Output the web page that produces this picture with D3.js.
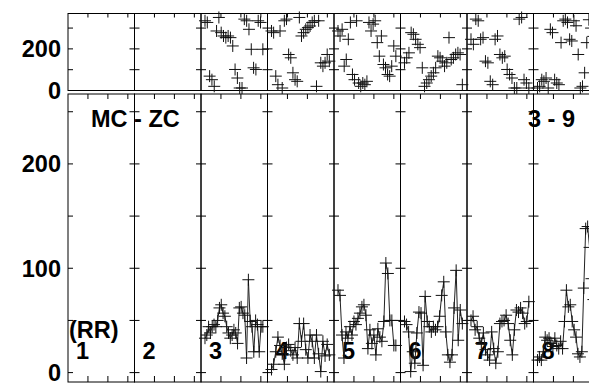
<!DOCTYPE html>
<html><head><meta charset="utf-8">
<script src="https://cdn.jsdelivr.net/npm/d3@7"></script>
<style>html,body{margin:0;padding:0;overflow:hidden;background:#fff}svg{display:block}</style>
</head><body><svg id="c" width="589" height="384"></svg>
<script>
// ---- data ----
const panels = [1, 2, 3, 4, 5, 6, 7, 8, 9];
const panelLabels = ["1", "2", "3", "4", "5", "6", "7", "8", "9"];
const dirTicks = [100, 200, 300];
const dirLabels = [0, 200];
const spdTicks = [0, 50, 100, 150, 200, 250];
const spdLabels = [0, 100, 200];
const timeTicks = [30, 60, 90];

// direction (top strip), per panel
const dir3 = [335, 327, 69, 52, 20, 286, 351, 278, 262, 254, 262, 254, 214, 101, 60, 12, 12, 343, 335, 294, 198, 109, 101, 335, 327, 198];
const dir4 = [286, 278, 69, 28, 286, 12, 335, 343, 173, 157, 85, 52, 44, 351, 262, 278, 294, 302, 310, 327, 335, 20, 335, 133, 117, 133, 173, 141];
const dir5 = [286, 262, 294, 117, 149, 246, 327, 77, 52, 335, 36, 20, 36, 28, 44, 327, 286, 319, 335, 230, 165, 262, 125, 109, 77, 69, 117, 214, 165];
const dir6 = [133, 157, 181, 278, 270, 246, 222, 206, 109, 20, 36, 52, 69, 85, 109, 165, 157, 141, 117, 133, 254, 149, 157, 173, 181, 173, 28];
const dir7 = [246, 222, 343, 335, 246, 254, 141, 133, 44, 28, 246, 262, 173, 157, 165, 101, 77, 60, 12, 12, 343, 351, 52, 36, 12];
const dir8 = [12, 20, 52, 44, 60, 12, 294, 278, 52, 36, 28, 230, 335, 343, 327, 246, 238, 335, 311, 173, 12, 20, 85, 230, 340, 300, 260, 200];

// speed (main strip), per panel
const spd3 = [33, 36, 44, 38, 44, 46, 44, 50, 62, 65, 57, 54, 44, 38, 33, 36, 41, 38, 28, 62, 63, 57, 55, 14, 89, 49, 44, 20, 50, 46, 20, 44, 44];
const spd4 = [3, 8, 20, 34, 26, 18, 8, 24, 27, 21, 17, 24, 14, 47, 30, 47, 22, 14, 36, 30, 14, 36, 18, 1, 30, 16, 27, 17];
const spd5 = [79, 74, 36, 14, 39, 33, 44, 36, 49, 46, 52, 57, 63, 65, 55, 23, 41, 28, 36, 17, 42, 34, 30, 49, 105, 95, 50, 50, 26, 26];
const spd6 = [49, 46, 39, 1, 20, 9, 38, 58, 57, 7, 73, 49, 44, 39, 44, 41, 44, 54, 74, 87, 39, 17, 10, 17, 62, 98, 31, 60, 47];
const spd7 = [50, 54, 41, 44, 33, 28, 38, 22, 17, 12, 39, 23, 9, 20, 47, 49, 50, 55, 47, 31, 17, 41, 60, 58, 62, 57, 47, 49, 68];
const spd8 = [12, 15, 12, 20, 34, 31, 33, 28, 25, 33, 26, 23, 30, 23, 49, 79, 63, 65, 49, 41, 34, 18, 15, 20, 81, 138, 140, 120, 90, 70, 50];

const dirByPanel = {3: dir3, 4: dir4, 5: dir5, 6: dir6, 7: dir7, 8: dir8};
const spdByPanel = {3: spd3, 4: spd4, 5: spd5, 6: spd6, 7: spd7, 8: spd8};

// ---- layout ----
const svg = d3.select("#c");
const FONT = "'Liberation Sans', Arial, sans-serif";
const FS = 23.5;
const px = d3.scaleBand().domain(panels).range([68, 68 + 66.5 * panels.length]).padding(0);
const bw = px.bandwidth();
const tx = d3.scaleLinear().domain([0, 100]).range([0, bw]);
const yDir = d3.scaleLinear().domain([0, 370]).range([90.5, 13.5]);
const ySpd = d3.scaleLinear().domain([-9, 267]).range([382, 94]);
const tIdx = n => d3.scaleLinear().domain([0, n - 1]).range([6, 93]);

const g = svg.append("g");
const stroke = "#000";

// frames
panels.forEach(p => {
  const L = px(p);
  g.append("rect").attr("x", L).attr("y", yDir.range()[1]).attr("width", bw)
    .attr("height", yDir.range()[0] - yDir.range()[1]).attr("fill", "none").attr("stroke", stroke).attr("stroke-width", 1);
  g.append("rect").attr("x", L).attr("y", ySpd.range()[1]).attr("width", bw)
    .attr("height", ySpd.range()[0] - ySpd.range()[1]).attr("fill", "none").attr("stroke", stroke).attr("stroke-width", 1);
  dirTicks.forEach(v => {
    const y = yDir(v);
    g.append("path").attr("d", `M${L},${y}h5M${L + bw - 5},${y}h5`).attr("stroke", stroke);
  });
  spdTicks.forEach(v => {
    const y = ySpd(v);
    g.append("path").attr("d", `M${L},${y}h5M${L + bw - 5},${y}h5`).attr("stroke", stroke);
  });
  timeTicks.forEach(t => {
    const x = L + tx(t);
    g.append("path").attr("d",
      `M${x},${yDir.range()[1]}v4M${x},${ySpd.range()[1]}v5M${x},${ySpd.range()[0]}v-6`)
      .attr("stroke", stroke);
  });
});

function label(x, y, txt, anchor) {
  g.append("text").attr("x", x).attr("y", y).attr("text-anchor", anchor || "start")
    .attr("font-family", FONT).attr("font-weight", "bold").attr("font-size", FS).text(txt);
}

// y labels
dirLabels.forEach(v => label(61, yDir(v) + 8.5, v, "end"));
spdLabels.forEach(v => label(61, ySpd(v) + 8.5, v, "end"));

// panel labels
panels.forEach((p, i) => label(px(p) + 8, 359, panelLabels[i]));
label(69, 338, "(RR)");
label(91, 127, "MC - ZC");
label(528, 127, "3 - 9");

// data
const cross = "M-6,0H6M0,-6V6";
Object.keys(spdByPanel).forEach(k => {
  const p = +k, L = px(p);
  const sp = spdByPanel[k], dr = dirByPanel[k];
  const ts = tIdx(sp.length), td = tIdx(dr.length);
  const line = d3.line().x((d, i) => L + tx(ts(i))).y(d => ySpd(d));
  g.append("path").attr("d", line(sp)).attr("fill", "none").attr("stroke", "#222").attr("stroke-width", 1);
  g.selectAll(null).data(sp).enter().append("path")
    .attr("transform", (d, i) => `translate(${L + tx(ts(i))},${ySpd(d)})`)
    .attr("d", cross).attr("stroke", "#111").attr("stroke-width", 1);
  g.selectAll(null).data(dr).enter().append("path")
    .attr("transform", (d, i) => `translate(${L + tx(td(i))},${yDir(d)})`)
    .attr("d", cross).attr("stroke", "#111").attr("stroke-width", 1);
});
</script></body></html>
